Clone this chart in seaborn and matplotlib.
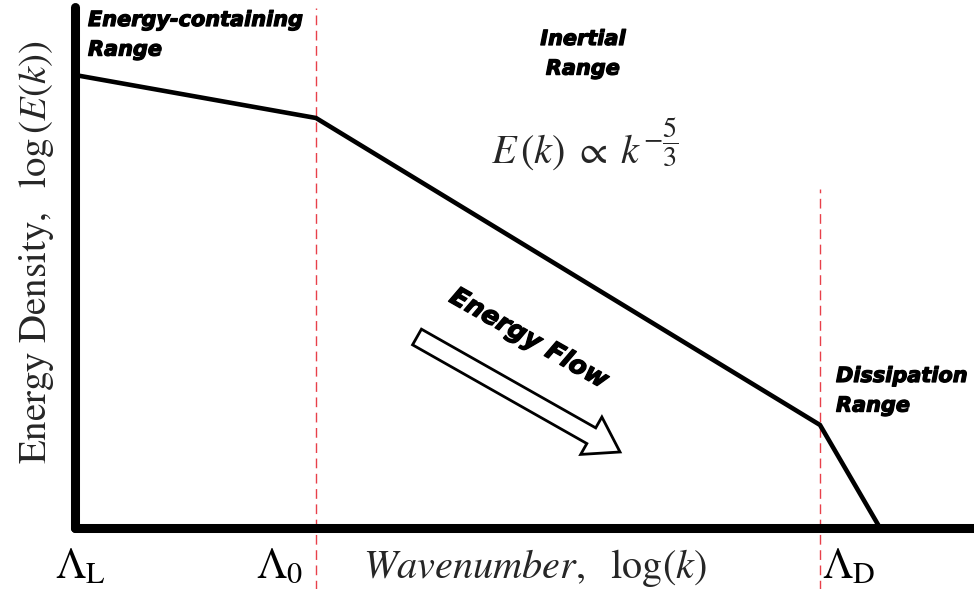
import matplotlib
matplotlib.use("Agg")
import matplotlib.pyplot as plt
import matplotlib.patheffects as pe
from matplotlib.patches import FancyArrow
import seaborn as sns
import pandas as pd

# Idealised turbulence energy spectrum (log-log, arbitrary units)
log_k = [0.00, 2.41, 7.45, 8.05]
log_E = [4.53, 4.10, 1.03, 0.00]
k_L, k_0, k_D = log_k[0], log_k[1], log_k[2]
scale_labels = [r"$\Lambda_{\mathrm{L}}$", r"$\Lambda_{0}$", r"$\Lambda_{\mathrm{D}}$"]
range_labels = ["Energy-containing\nRange", "Inertial\nRange", "Dissipation\nRange"]

sns.set_style("white")
plt.rcParams["mathtext.fontset"] = "stix"
plt.rcParams["font.family"] = ["DejaVu Sans"]

fig = plt.figure(figsize=(9.74, 5.89), dpi=100)
ax = fig.add_axes([0.077, 0.1036, 0.923, 0.8845])

df = pd.DataFrame({"log_k": log_k, "log_E": log_E})
sns.lineplot(data=df, x="log_k", y="log_E", color="black", lw=3.3,
             estimator=None, ax=ax, solid_joinstyle="miter")

ax.set_xlim(0, 8.99)
ax.set_ylim(0, 5.21)

for side in ("top", "right"):
    ax.spines[side].set_visible(False)
for side in ("left", "bottom"):
    ax.spines[side].set_linewidth(6.5)
    ax.spines[side].set_color("black")
    ax.spines[side].set_capstyle("round")
ax.set_xticks([])
ax.set_yticks([])
ax.set_xlabel("")
ax.set_ylabel("")

# Range boundaries
dash = dict(color="#e8404a", lw=1.0, dashes=(7, 4), clip_on=False, zorder=1)
ax.axvline(k_0, ymin=-0.125, ymax=0.998, **dash)
ax.axvline(k_D, ymin=-0.125, ymax=0.65, **dash)

# Scale markers under the axis
serif_math = dict(fontsize=31, ha="center", va="center", color="black")
ax.text(k_L + 0.05, -0.38, scale_labels[0], **serif_math)
ax.text(k_0 - 0.36, -0.38, scale_labels[1], **serif_math)
ax.text(k_D + 0.29, -0.38, scale_labels[2], **serif_math)

# Axis titles
ax.text(4.60, -0.40, r"$\mathit{Wavenumber},\ \ \log(k)$", fontsize=29,
        ha="center", va="center")
fig.text(0.037, 0.572, r"$\mathrm{Energy\ Density,}\ \ \log\left(E(k)\right)$",
         fontsize=28, rotation=90, ha="center", va="center")

# Region labels
heavy = [pe.withStroke(linewidth=0.9, foreground="black")]
bold_it = dict(fontweight="bold", fontstyle="italic", family=["DejaVu Sans"],
               color="black", path_effects=heavy)
ax.text(0.13, 5.18, range_labels[0], ha="left", va="top", fontsize=15,
        linespacing=1.6, **bold_it)
ax.text(5.08, 4.99, range_labels[1], ha="center", va="top", fontsize=15,
        linespacing=1.6, **bold_it)
ax.text(7.61, 1.62, range_labels[2], ha="left", va="top", fontsize=15,
        linespacing=1.6, **bold_it)

# Kolmogorov scaling law
ax.text(5.10, 3.84, r"$E\,(k)\;\propto\;k^{-\dfrac{5}{3}}$", fontsize=29,
        ha="center", va="center")

# Energy cascade arrow
ax.add_patch(FancyArrow(3.42, 1.91, 2.03, -1.15, width=0.18, head_width=0.43,
                        head_length=0.33, length_includes_head=True,
                        fc="white", ec="black", lw=2.0, zorder=3))
ax.text(4.54, 1.89, "Energy Flow", rotation=-29.6, ha="center", va="center",
        rotation_mode="anchor", fontsize=18.5, **bold_it)

fig.savefig("out.png", dpi=100)
